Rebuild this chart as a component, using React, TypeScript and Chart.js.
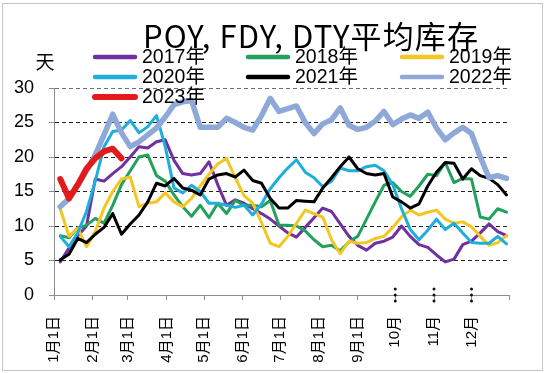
import { useEffect, useRef } from "react";
import { Chart, registerables } from "chart.js";

Chart.register(...registerables);

// ---- data ----
const titleText = "POY, FDY, DTY平均库存";
const unitText = "天";

// weekly samples, day-of-year of each sample (first sample ~ Jan 6)
const firstSampleDay = 5;
const weekDays = Array.from({ length: 52 }, (_, i) => firstSampleDay + 7 * i);

const monthTickDays = [0, 31, 59, 90, 120, 151, 181, 212, 243, 273, 304, 334, 364];
const monthLabels = ["1月1日", "2月1日", "3月1日", "4月1日", "5月1日", "6月1日", "7月1日", "8月1日", "9月1日", "10月", "11月", "12月", ""];
const dottedMonths = [false, false, false, false, false, false, false, false, false, true, true, true, false];

const yTicks = [0, 5, 10, 15, 20, 25, 30];

const seriesNames = ["2017年", "2018年", "2019年", "2020年", "2021年", "2022年", "2023年"];

const y2017 = [4.8, 6.8, 8.6, 10.0, 16.8, 16.5, 17.6, 18.6, 20.0, 21.5, 21.3, 22.2, 22.5, 19.5, 17.6, 17.4, 17.6, 19.3, 16.0, 13.0, 13.8, 13.3, 12.5, 11.8, 11.0, 10.0, 9.0, 8.4, 9.8, 11.2, 12.6, 12.1, 10.3, 8.5, 7.2, 6.5, 7.5, 7.8, 8.4, 10.0, 8.5, 7.3, 6.9, 5.8, 4.8, 5.2, 7.3, 7.8, 9.0, 10.3, 9.2, 8.6];
const y2018 = [8.6, 8.3, 9.7, 10.1, 11.1, 10.4, 13.0, 16.0, 18.0, 20.0, 20.3, 17.3, 16.5, 14.5, 12.8, 11.4, 13.0, 11.2, 13.3, 11.8, 13.7, 13.0, 13.0, 12.8, 13.7, 10.1, 10.1, 10.0, 9.3, 8.0, 7.0, 7.2, 6.4, 7.7, 8.5, 11.0, 13.5, 15.9, 16.3, 15.0, 14.3, 15.8, 17.5, 17.3, 19.2, 16.3, 16.9, 16.8, 11.3, 11.0, 12.5, 12.0];
const y2019 = [12.5, 8.5, 9.7, 7.0, 9.2, 12.6, 15.0, 16.8, 17.1, 12.8, 13.3, 13.5, 14.8, 13.5, 12.8, 14.0, 15.8, 17.5, 19.0, 19.8, 17.0, 14.4, 13.3, 10.5, 7.5, 7.0, 8.5, 10.4, 12.3, 11.8, 11.3, 8.0, 6.0, 7.8, 7.5, 7.6, 8.2, 8.5, 9.8, 11.3, 12.3, 11.6, 12.0, 12.3, 11.0, 10.4, 10.6, 9.9, 8.5, 7.2, 7.6, 8.6];
const y2020 = [8.5, 7.0, 9.0, 12.1, 16.5, 21.5, 23.7, 23.9, 25.3, 23.5, 24.4, 26.0, 21.5, 15.5, 14.8, 15.9, 15.0, 13.3, 13.3, 13.0, 12.7, 13.0, 11.6, 13.2, 15.4, 17.0, 18.4, 19.6, 17.8, 17.0, 15.7, 16.5, 18.4, 18.0, 18.0, 18.6, 18.8, 18.0, 16.0, 12.5, 9.5, 8.0, 9.4, 11.0, 9.5, 10.4, 9.0, 7.6, 7.5, 7.5, 8.5, 7.4];
const y2021 = [5.1, 5.9, 8.2, 7.6, 8.8, 9.8, 11.8, 8.8, 10.3, 11.6, 13.5, 16.2, 15.8, 16.9, 15.5, 15.2, 14.5, 16.8, 17.4, 17.6, 17.1, 18.1, 16.6, 16.2, 14.0, 12.6, 12.6, 13.7, 13.6, 13.5, 15.5, 17.0, 18.6, 20.0, 18.3, 17.6, 17.4, 17.6, 14.2, 13.5, 12.6, 13.2, 15.8, 17.8, 19.2, 19.1, 16.8, 18.3, 17.3, 16.9, 16.0, 14.5];
const y2022 = [12.8, 14.0, 15.9, 18.0, 20.3, 23.2, 26.2, 23.5, 21.5, 22.2, 23.2, 24.2, 25.8, 27.6, 28.0, 28.2, 24.3, 24.3, 24.3, 25.6, 25.0, 24.3, 23.9, 26.0, 28.5, 26.6, 27.0, 27.4, 25.0, 23.4, 24.8, 25.4, 27.1, 24.6, 24.0, 24.3, 25.2, 26.6, 24.7, 25.5, 26.1, 25.6, 26.5, 24.2, 22.5, 23.5, 24.3, 23.4, 20.0, 17.0, 17.3, 16.9];
const y2023 = [16.8, 14.0, 16.0, 18.3, 19.8, 20.8, 21.2, 19.8];

const seriesValues = [y2017, y2018, y2019, y2020, y2021, y2022, y2023];

// ---- styles ----
const seriesColors = ["#7030A0", "#22A05C", "#F4C622", "#1EAEDC", "#000000", "#8EA8D8", "#E31A1C"];
const seriesWidths = [3, 3, 3, 3, 3, 5.5, 6];
const legendWidths = [4.5, 4.5, 4.5, 4.5, 4.5, 4.5, 6];

const legendColX = [93, 246, 400];
const legendRowY = [57, 77, 97];

const overlayPlugin = {
  id: "overlayText",
  afterDraw(chart: any) {
    const ctx = chart.ctx as CanvasRenderingContext2D;
    const xs = chart.scales.x;
    const ys = chart.scales.y;
    ctx.save();

    // dotted marks at late-year month ticks
    ctx.fillStyle = "#111";
    const base = ys.getPixelForValue(0);
    monthTickDays.forEach((d, i) => {
      if (!dottedMonths[i]) return;
      const px = xs.getPixelForValue(d);
      [-6, 0, 6].forEach((off) => {
        ctx.beginPath();
        ctx.arc(px, base + off, 1.5, 0, Math.PI * 2);
        ctx.fill();
      });
    });

    // title
    ctx.fillStyle = "#000";
    ctx.textBaseline = "middle";
    ctx.textAlign = "left";
    ctx.font = "31px 'Liberation Sans Narrow', 'Noto Sans CJK SC'";
    const w0 = ctx.measureText(titleText).width;
    const n = Array.from(titleText).length;
    const target = 335;
    const sp = Math.max(0, (target - w0) / (n - 1));
    (ctx as any).letterSpacing = sp + "px";
    ctx.fillText(titleText, 143, 36);
    (ctx as any).letterSpacing = "0px";

    // unit label
    ctx.font = "19px 'Noto Sans CJK SC'";
    ctx.textAlign = "center";
    ctx.fillText(unitText, 45, 62);

    // legend
    ctx.textAlign = "left";
    ctx.font = "19.5px 'Liberation Sans', 'Noto Sans CJK SC'";
    ctx.lineCap = "round";
    chart.data.datasets.forEach((ds: any, i: number) => {
      const col = i % 3;
      const row = Math.floor(i / 3);
      const x0 = legendColX[col];
      const y0 = legendRowY[row];
      ctx.strokeStyle = ds.borderColor;
      ctx.lineWidth = legendWidths[i];
      ctx.beginPath();
      ctx.moveTo(x0 + 2, y0);
      ctx.lineTo(x0 + 42, y0);
      ctx.stroke();
      ctx.fillStyle = "#000";
      ctx.fillText(ds.label, x0 + 49, y0 + 1);
    });
    ctx.restore();
  },
};

export default function App() {
  const canvasRef = useRef<HTMLCanvasElement | null>(null);

  useEffect(() => {
    if (!canvasRef.current) return;
    const datasets = seriesNames.map((name, s) => ({
      label: name,
      data: seriesValues[s].map((v, i) => ({ x: weekDays[i], y: v })),
      borderColor: seriesColors[s],
      backgroundColor: seriesColors[s],
      borderWidth: seriesWidths[s],
      pointRadius: 0,
      tension: 0,
      fill: false,
      borderJoinStyle: "round" as const,
      borderCapStyle: "round" as const,
      order: seriesNames.length - 1 - s,
    }));

    const chart = new Chart(canvasRef.current, {
      type: "line",
      data: { datasets },
      plugins: [overlayPlugin],
      options: {
        animation: false,
        responsive: true,
        maintainAspectRatio: false,
        layout: { padding: { top: 88, right: 41, left: 0, bottom: 0 } },
        plugins: {
          legend: { display: false },
          title: { display: false },
          tooltip: { enabled: false },
        },
        scales: {
          x: {
            type: "linear",
            min: 0,
            max: 364,
            afterFit: (scale: any) => {
              scale.height = 78;
            },
            afterBuildTicks: (scale: any) => {
              scale.ticks = monthTickDays.map((d) => ({ value: d }));
            },
            ticks: {
              autoSkip: false,
              minRotation: 90,
              maxRotation: 90,
              padding: 16,
              color: "#000",
              font: { family: "'Liberation Sans', 'Noto Sans CJK SC'", size: 15 },
              callback: (value: any) => {
                const idx = monthTickDays.indexOf(Number(value));
                return idx >= 0 ? monthLabels[idx] : "";
              },
            },
            grid: {
              drawOnChartArea: false,
              drawTicks: true,
              tickLength: 5,
              tickColor: "#8c8c8c",
              tickWidth: 1,
            },
            border: { display: true, color: "#8c8c8c", width: 1 },
          },
          y: {
            min: 0,
            max: 30,
            afterFit: (scale: any) => {
              scale.width = 54;
            },
            afterBuildTicks: (scale: any) => {
              scale.ticks = yTicks.map((v) => ({ value: v }));
            },
            ticks: {
              padding: 15,
              color: "#000",
              font: { family: "'Liberation Sans'", size: 18 },
            },
            grid: {
              color: (c: any) =>
                c.tick && c.tick.value === 0 ? "rgba(0,0,0,0)" : c.tick && c.tick.value === 30 ? "#707070" : "#222",
              lineWidth: 1,
              drawTicks: true,
              tickLength: 5,
              tickColor: "#8c8c8c",
            },
            border: { display: true, color: "#8c8c8c", width: 1, dash: [4, 3] },
          },
        },
      },
    });
    return () => chart.destroy();
  }, []);

  return (
    <div style={{ position: "fixed", left: 0, top: 0, width: 550, height: 373, background: "#fff" }}>
      <div
        style={{
          position: "absolute",
          left: 2,
          top: 3,
          width: 539,
          height: 366,
          border: "1.5px solid #c4c4c4",
          pointerEvents: "none",
        }}
      />
      <canvas ref={canvasRef} style={{ position: "absolute", left: 0, top: 0 }} />
    </div>
  );
}
